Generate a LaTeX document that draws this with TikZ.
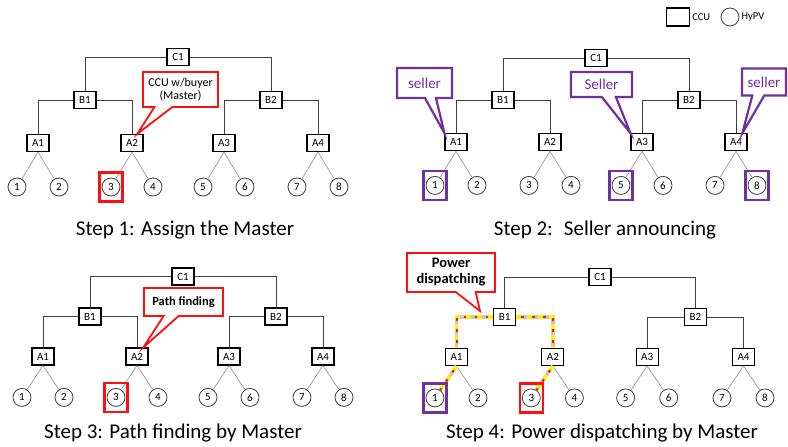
\documentclass[tikz,border=0pt]{standalone}
\usepackage{fontspec}
\setmainfont{Carlito}
\usepackage{xcolor}
\usepackage{tikz}
\usetikzlibrary{shapes.callouts}

\definecolor{mred}{HTML}{FF1010}
\definecolor{mpurple}{HTML}{7030A0}
\definecolor{wire}{HTML}{404040}
\definecolor{leafwire}{HTML}{8C8C8C}

\tikzset{
  ccu/.style={draw=black, line width=1.1pt, fill=white, minimum width=22pt,
    minimum height=17pt, inner sep=0pt, font=\fontsize{11}{12}\selectfont},
  hypv/.style={circle, draw=wire, line width=0.8pt, fill=white, minimum size=18pt,
    inner sep=0pt, font=\fontsize{11}{12}\selectfont},
  trunk/.style={draw=wire, line width=0.8pt},
  twig/.style={draw=leafwire, line width=0.6pt},
  pickbox/.style={draw=#1, line width=2.2pt, minimum width=23pt, minimum height=29pt, inner sep=0pt},
  talk/.style={rectangle callout, draw=#1, fill=white, line width=1.8pt, inner sep=1pt, align=center},
  caption/.style={font=\fontsize{21}{24}\selectfont},
  power/.style={line width=3.6pt, draw=gray!45,
    postaction={draw=yellow, line width=3.6pt, dash pattern=on 6pt off 5pt},
    postaction={draw=mred, line width=2pt, dash pattern=on 2.5pt off 8.5pt, dash phase=6pt}}
}

% one tree: C1 -> B1,B2 -> A1..A4 -> HyPV 1..8
\newcommand{\hytree}{%
  \node[ccu] (C1) at (0,0) {C1};
  \node[ccu] (B1) at (-93,43) {B1};
  \node[ccu] (B2) at (93,43) {B2};
  \foreach \i/\x in {1/-140,2/-46,3/46,4/140}
    \node[ccu] (A\i) at (\x,86) {A\i};
  \foreach \i/\x in {1/-161,2/-119,3/-67,4/-25,5/25,6/67,7/119,8/161}
    \node[hypv] (h\i) at (\x,130) {\i};
  \draw[trunk] (C1.west) -| (B1.north);
  \draw[trunk] (C1.east) -| (B2.north);
  \draw[trunk] (B1.west) -| (A1.north);
  \draw[trunk] (B1.east) -| (A2.north);
  \draw[trunk] (B2.west) -| (A3.north);
  \draw[trunk] (B2.east) -| (A4.north);
  \foreach \a/\l/\r in {1/1/2,2/3/4,3/5/6,4/7/8} {
    \draw[twig] (A\a.south) -- (h\l);
    \draw[twig] (A\a.south) -- (h\r);
  }
}

\begin{document}
\begin{tikzpicture}[x=1pt, y=-1pt]
  \useasboundingbox (0,0) rectangle (788,447);

  % legend
  \node[ccu, minimum width=23pt, minimum height=18pt] (keyccu) at (678,17) {};
  \node[anchor=west, inner sep=2pt, font=\fontsize{10.5}{12}\selectfont] (keyccutxt) at (keyccu.east) {CCU};
  \node[hypv, minimum size=18pt] (keyhypv) at (730,17) {};
  \node[anchor=west, inner sep=2pt, font=\fontsize{10.5}{12}\selectfont] (keyhypvtxt) at (keyhypv.east) {HyPV};

  % the four steps
  \begin{scope}[shift={(178,57)}, name prefix=p1-]
    \hytree
  \end{scope}
  \begin{scope}[shift={(596,58)}, yscale=0.98, name prefix=p2-]
    \hytree
  \end{scope}
  \begin{scope}[shift={(183,276.5)}, yscale=0.93, name prefix=p3-]
    \hytree
  \end{scope}
  \begin{scope}[shift={(600,277)}, xscale=1.025, yscale=0.93, name prefix=p4-]
    \hytree
  \end{scope}

  % step 1
  \node[pickbox=mred] (m1) at (p1-h3) {};
  \node[talk=mred, minimum width=75pt, minimum height=35pt, callout pointer width=18pt,
    callout absolute pointer={(p1-A2.60)}, font=\fontsize{12}{13.5}\selectfont]
    (note1) at (180.5,89.5) {CCU w/buyer\\(Master)};

  % step 2
  \foreach \h in {1,5,8}
    \node[pickbox=mpurple] (s\h) at (p2-h\h) {};
  \node[talk=mpurple, line width=2.2pt, minimum width=55pt, minimum height=30pt,
    callout pointer width=11pt, callout absolute pointer={(p2-A1.north west)},
    text=mpurple, font=\fontsize{15}{17}\selectfont] (sell1) at (424.5,83) {seller};
  \node[talk=mpurple, line width=2.2pt, minimum width=61pt, minimum height=25pt,
    callout pointer width=14pt, callout absolute pointer={(p2-A3.north west)},
    text=mpurple, font=\fontsize{15}{17}\selectfont] (sell2) at (601.5,84.5) {Seller};
  \node[talk=mpurple, line width=2.2pt, minimum width=44pt, minimum height=27pt,
    callout pointer width=12pt, callout absolute pointer={(p2-A4.55)},
    text=mpurple, font=\fontsize{15}{17}\selectfont] (sell3) at (764,82) {seller};

  % step 3
  \node[pickbox=mred] (m3) at (p3-h3) {};
  \node[talk=mred, minimum width=79pt, minimum height=28pt, callout pointer width=15pt,
    callout absolute pointer={(p3-A2.55)}, font=\bfseries\fontsize{12.5}{14}\selectfont]
    (note3) at (183.5,302) {Path finding};

  % step 4
  \draw[power] (p4-B1.west) -| (p4-A1.north);
  \draw[power] (p4-B1.east) -| (p4-A2.north);
  \draw[power] (p4-A1.south) -- (p4-h1);
  \draw[power] (p4-A2.south) -- (p4-h3);
  \node[pickbox=mpurple] (s4) at (p4-h1) {};
  \node[pickbox=mred] (m4) at (p4-h3) {};
  \coordinate (tip4) at (480,311);
  \node[talk=mred, minimum width=88pt, minimum height=39pt, callout pointer width=20pt,
    callout absolute pointer={(tip4)}, font=\bfseries\fontsize{14.5}{16}\selectfont]
    (note4) at (451,272.5) {Power\\dispatching};

  % captions
  \node[caption] (cap1) at (185,230) {Step 1: Assign the Master};
  \node[caption] (cap2) at (605,230) {Step 2:~ Seller announcing};
  \node[caption] (cap3) at (173,433) {Step 3: Path finding by Master};
  \node[caption] (cap4) at (602,433) {Step 4: Power dispatching by Master};
\end{tikzpicture}
\end{document}
